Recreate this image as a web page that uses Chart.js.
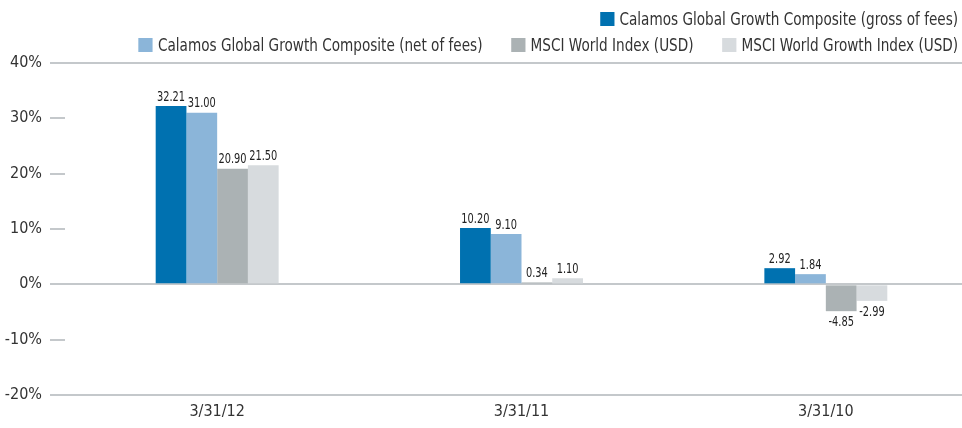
<!DOCTYPE html>
<html>
<head>
<meta charset="utf-8">
<script src="https://cdn.jsdelivr.net/npm/chart.js@4.4.1/dist/chart.umd.min.js"></script>
<style>
  html, body { margin: 0; padding: 0; background: #fff; overflow: hidden; }
  #wrap { position: relative; width: 962px; height: 428px; overflow: hidden; }
  #box { position: absolute; left: 0; top: 0; width: 980px; height: 428px; }
  #legend {
    position: absolute; right: 4px; top: 6px; z-index: 2;
    font-family: 'DejaVu Sans Condensed', 'Liberation Sans Narrow', sans-serif;
    font-size: 17px; color: #333;
    transform: scaleX(0.89); transform-origin: right top;
  }
  .row { display: flex; justify-content: flex-end; height: 26px; align-items: center; }
  .item { display: flex; align-items: center; margin-left: 32px; white-space: nowrap; }
  .sw { width: 16px; height: 14px; margin-right: 6px; }
</style>
</head>
<body>
<div id="wrap">
  <div id="legend"></div>
  <div id="box"><canvas id="canvas_perf"></canvas></div>
</div>
<script>
var categories = ['3/31/12', '3/31/11', '3/31/10'];
var series_names = [
    'Calamos Global Growth Composite (gross of fees)',
    'Calamos Global Growth Composite (net of fees)',
    'MSCI World Index (USD)',
    'MSCI World Growth Index (USD)'
];
var gross = [32.21, 10.20, 2.92];
var net = [31.00, 9.10, 1.84];
var msci_world = [20.90, 0.34, -4.85];
var msci_growth = [21.50, 1.10, -2.99];
var series_colors = ['#0071b0', '#8bb5d9', '#abb2b4', '#d7dbde'];
var y_ticks = [-20, -10, 0, 10, 20, 30, 40];

var LABEL_FONT = "'DejaVu Sans Condensed', 'Liberation Sans Narrow', sans-serif";
var full_lines = [40, 0, -20];

// legend: first item alone on the top row, other three below
var legend = document.getElementById('legend');
[[0], [1, 2, 3]].forEach(idx => {
    var row = document.createElement('div');
    row.className = 'row';
    idx.forEach(i => {
        var it = document.createElement('div');
        it.className = 'item';
        it.innerHTML = '<span class="sw" style="background:' + series_colors[i] + '"></span>' + series_names[i];
        row.appendChild(it);
    });
    legend.appendChild(row);
});

var valueLabels = {
    id: 'valueLabels',
    afterDatasetsDraw(chart) {
        const c = chart.ctx;
        chart.data.datasets.forEach((ds, di) => {
            chart.getDatasetMeta(di).data.forEach((bar, i) => {
                var v = ds.data[i];
                c.save();
                c.font = '14px ' + LABEL_FONT;
                c.fillStyle = '#222';
                c.textAlign = 'center';
                if (v >= 0) {
                    c.textBaseline = 'bottom';
                    c.translate(bar.x, bar.y - 2);
                } else {
                    c.textBaseline = 'top';
                    c.translate(bar.x, bar.y + 4);
                }
                c.scale(0.78, 1);
                c.fillText(v.toFixed(2), 0, 0);
                c.restore();
            });
        });
    }
};

var datasets = [gross, net, msci_world, msci_growth].map((d, i) => ({
    label: series_names[i],
    data: d,
    backgroundColor: series_colors[i],
    borderWidth: 0,
    categoryPercentage: 0.404,
    barPercentage: 1.0
}));

const ctx = document.getElementById('canvas_perf').getContext('2d');
var chart1 = new Chart(ctx, {
    type: 'bar',
    data: {
        labels: categories,
        datasets: datasets
    },
    options: {
        responsive: true,
        maintainAspectRatio: false,
        animation: false,
        layout: {
            padding: { top: 63, right: 2, bottom: 0, left: 0 }
        },
        plugins: {
            legend: { display: false },
            tooltip: { enabled: false }
        },
        scales: {
            x: {
                grid: { display: false, drawTicks: false },
                border: { display: false },
                ticks: {
                    color: '#333',
                    padding: 7,
                    font: { family: LABEL_FONT, size: 16 }
                },
                afterFit: function (scale) { scale.height = 33; }
            },
            y: {
                min: -20,
                max: 40,
                afterBuildTicks: function (scale) {
                    scale.ticks = y_ticks.map(v => ({ value: v }));
                },
                afterFit: function (scale) { scale.width = 65; },
                border: { display: false },
                grid: {
                    drawTicks: true,
                    tickLength: 15,
                    tickWidth: 2,
                    tickColor: '#c4c8cb',
                    lineWidth: 2,
                    color: function (c) {
                        return full_lines.includes(c.tick.value) ? '#c4c8cb' : 'rgba(0,0,0,0)';
                    }
                },
                ticks: {
                    color: '#333',
                    padding: 8,
                    font: { family: LABEL_FONT, size: 16 },
                    callback: function (v) { return v + '%'; }
                }
            }
        }
    },
    plugins: [valueLabels]
});
</script>
</body>
</html>
